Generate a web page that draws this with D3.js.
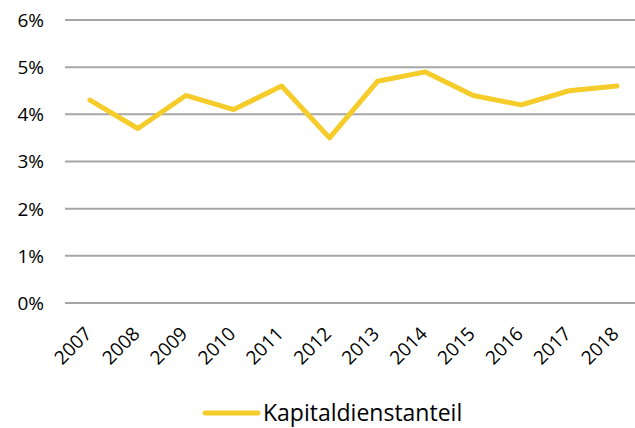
<!DOCTYPE html>
<html><head><meta charset="utf-8">
<script src="https://cdn.jsdelivr.net/npm/d3@7"></script>
<style>body{margin:0;background:#fff}svg{display:block}text{font-family:"Open Sans","Noto Sans",sans-serif;fill:#000}</style>
</head><body>
<script>
const years = ["2007","2008","2009","2010","2011","2012","2013","2014","2015","2016","2017","2018"];
const kapitaldienstanteil = [4.3,3.7,4.4,4.1,4.6,3.5,4.7,4.9,4.4,4.2,4.5,4.6];
const yTicks = [0,1,2,3,4,5,6];
const seriesName = "Kapitaldienstanteil";

const W=635,H=428;
const svg=d3.select("body").append("svg").attr("width",W).attr("height",H);
const x=d3.scaleBand().domain(years).range([66,641]);
const y=d3.scaleLinear().domain([0,6]).range([303,20]);

const grid=svg.append("g");
grid.selectAll("line").data(yTicks).join("line")
 .attr("x1",65).attr("x2",W).attr("y1",d=>y(d)).attr("y2",d=>y(d))
 .attr("stroke","#a6a6a6").attr("stroke-width",2);

svg.append("g").selectAll("text").data(yTicks).join("text")
 .attr("x",44).attr("y",d=>y(d)).attr("dy","0.36em").attr("text-anchor","end")
 .style("font-size","19px").text(d=>d+"%");

svg.append("g").selectAll("text").data(years).join("text")
 .attr("transform",d=>`translate(${x(d)+x.bandwidth()/2+3},${335}) rotate(-45)`)
 .attr("text-anchor","end")
 .style("font-size","19px").text(d=>d);

const line=d3.line().x((d,i)=>x(years[i])+x.bandwidth()/2).y(d=>y(d));
svg.append("path").datum(kapitaldienstanteil).attr("d",line)
 .attr("fill","none").attr("stroke","#f5cc2a").attr("stroke-width",5)
 .attr("stroke-linejoin","round").attr("stroke-linecap","round");

const lg=svg.append("g");
lg.append("line").attr("x1",205).attr("x2",258).attr("y1",413).attr("y2",413)
 .attr("stroke","#f5cc2a").attr("stroke-width",5).attr("stroke-linecap","round");
lg.append("text").attr("x",263).attr("y",413).attr("dy","0.36em")
 .style("font-size","23px").text(seriesName);
</script>
</body></html>
